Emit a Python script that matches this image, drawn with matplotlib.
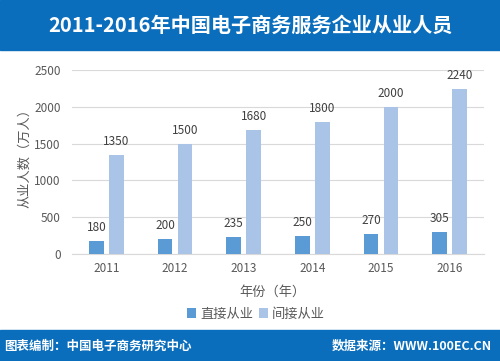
import numpy as np
import matplotlib
matplotlib.use("Agg")
import matplotlib.pyplot as plt
from matplotlib.patches import Rectangle

plt.rcParams['font.family'] = ['Noto Sans CJK SC', 'DejaVu Sans']

# data
years = ["2011", "2012", "2013", "2014", "2015", "2016"]
direct = [180, 200, 235, 250, 270, 305]
indirect = [1350, 1500, 1680, 1800, 2000, 2240]
series_names = ["直接从业", "间接从业"]

banner = "#0A6EBD"
c_dark = "#5B9BD5"
c_light = "#A9C4E6"
txt = "#595959"

fig = plt.figure(figsize=(5, 3.61), dpi=100)
ax = fig.add_axes([0.144, 0.2964, 0.824, 0.5096])

x = np.arange(len(years))
w = 0.215
b1 = ax.bar(x - 0.145, direct, w, color=c_dark, label=series_names[0], zorder=3)
b2 = ax.bar(x + 0.145, indirect, w, color=c_light, label=series_names[1], zorder=3)

for rects, vals in ((b1, direct), (b2, indirect)):
    for r, v in zip(rects, vals):
        ax.text(r.get_x() + r.get_width() / 2, v + 95, str(v), ha='center', va='bottom',
                fontsize=8.5, color="#404040")

ax.set_xlim(-0.5, 5.5)
ax.set_ylim(0, 2500)
ax.set_yticks(range(0, 2501, 500))
ax.set_xticks(x)
ax.set_xticklabels(years)
ax.grid(axis='y', color="#D9D9D9", linewidth=0.8, zorder=0)
for s in ['top', 'right', 'left']:
    ax.spines[s].set_visible(False)
ax.spines['bottom'].set_color("#D9D9D9")
ax.tick_params(axis='both', length=0, labelsize=8.5, colors=txt, pad=6)
ax.tick_params(axis='y', pad=8)

fig.text(0.05, 0.5706, "从业人数（万人）", rotation=90, ha='center', va='center',
         fontsize=9.5, color=txt)
fig.text(0.544, 1 - 292 / 361, "年份（年）", ha='center', va='center', fontsize=9.5, color=txt)

leg = fig.legend(handles=[b1, b2], loc='center', bbox_to_anchor=(0.512, 1 - 314 / 361),
                 ncol=2, frameon=False, fontsize=9.5, handlelength=0.7, handleheight=0.7,
                 handletextpad=0.3, columnspacing=0.4)
for t in leg.get_texts():
    t.set_color(txt)

# banners
fig.add_artist(Rectangle((0, 1 - 50 / 361), 1, 50 / 361, transform=fig.transFigure,
                         color=banner, zorder=0))
fig.add_artist(Rectangle((0, 0), 1, 31 / 361, transform=fig.transFigure,
                         color=banner, zorder=0))
fig.text(0.5, 1 - 25 / 361, "2011-2016年中国电子商务服务企业从业人员", ha='center', va='center',
         fontsize=14.5, fontweight='bold', color='white')
fig.text(0.008, 15 / 361, "图表编制：中国电子商务研究中心", ha='left', va='center',
         fontsize=9, fontweight='bold', color='white')
fig.text(0.984, 15 / 361, "数据来源：WWW.100EC.CN", ha='right', va='center',
         fontsize=9, fontweight='bold', color='white')

plt.savefig("out.png", dpi=100)
